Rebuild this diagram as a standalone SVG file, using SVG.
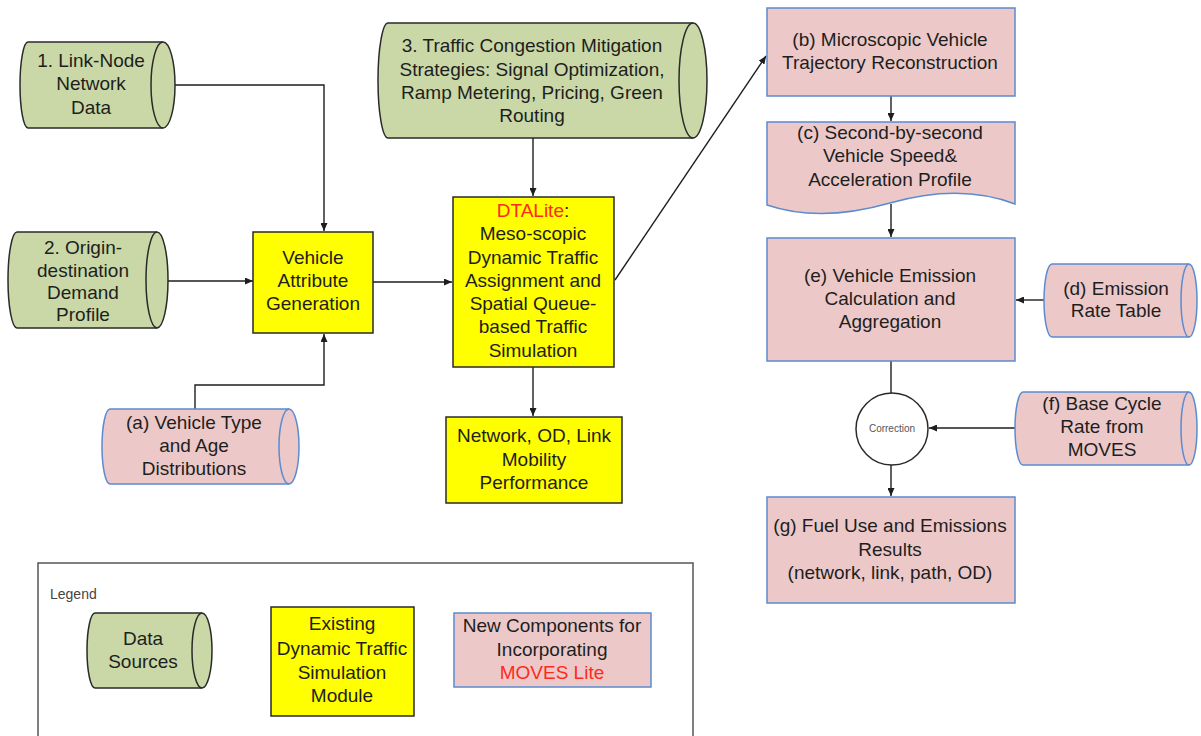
<svg xmlns="http://www.w3.org/2000/svg" width="1201" height="736" viewBox="0 0 1201 736">
<style>
text{font-family:"Liberation Sans",Arial,sans-serif;font-size:19px;fill:#1e1e1e;text-anchor:middle}
.green{fill:#c9d8a6;stroke:#2a2a2a;stroke-width:1.5}
.yellow{fill:#ffff00;stroke:#2a2a2a;stroke-width:1.5}
.pink{fill:#ecc9c8;stroke:#5b8bd0;stroke-width:1.5}
.inner{fill:none}
.conn{fill:none;stroke:#1e1e1e;stroke-width:1.4}
.red{fill:#ff2a1a}
</style>
<defs>
<marker id="ah" markerUnits="userSpaceOnUse" markerWidth="9" markerHeight="7" refX="8" refY="3.5" orient="auto"><path d="M0,0 L8,3.5 L0,7 Z" fill="#1e1e1e"/></marker>
</defs>
<rect width="1201" height="736" fill="#fff"/>

<g id="connectors">
<polyline class="conn" points="175,85 324,85 324,231" marker-end="url(#ah)"/>
<line class="conn" x1="168" y1="281" x2="253" y2="281" marker-end="url(#ah)"/>
<polyline class="conn" points="195,409 195,385 324,385 324,334" marker-end="url(#ah)"/>
<line class="conn" x1="373" y1="282" x2="452" y2="282" marker-end="url(#ah)"/>
<line class="conn" x1="533" y1="138" x2="533" y2="196" marker-end="url(#ah)"/>
<line class="conn" x1="533" y1="367" x2="533" y2="416" marker-end="url(#ah)"/>
<line class="conn" x1="615" y1="280" x2="766" y2="56" marker-end="url(#ah)"/>
<line class="conn" x1="891" y1="96" x2="891" y2="121" marker-end="url(#ah)"/>
<line class="conn" x1="891" y1="204" x2="891" y2="237" marker-end="url(#ah)"/>
<line class="conn" x1="1044" y1="300" x2="1016" y2="300" marker-end="url(#ah)"/>
<line class="conn" x1="891" y1="361" x2="891" y2="393"/>
<line class="conn" x1="1015" y1="428" x2="929" y2="428" marker-end="url(#ah)"/>
<line class="conn" x1="891" y1="465" x2="891" y2="496" marker-end="url(#ah)"/>
</g>

<g id="n1">
<path class="green" d="M28,42 H163 A12,43 0 0 1 163,128 H28 A8,43 0 0 1 28,42 Z"/>
<path class="green inner" d="M163,42 A12,43 0 0 0 163,128"/>
<text x="91" y="67">1. Link-Node</text><text x="91" y="90">Network</text><text x="91" y="114">Data</text>
</g>

<g id="n2">
<path class="green" d="M17,232 H157 A11,48 0 0 1 157,328 H17 A9,48 0 0 1 17,232 Z"/>
<path class="green inner" d="M157,232 A11,48 0 0 0 157,328"/>
<text x="83" y="254">2. Origin-</text><text x="83" y="277">destination</text><text x="83" y="299">Demand</text><text x="83" y="321">Profile</text>
</g>

<g id="n3">
<path class="green" d="M388,23 H693 A14,57.5 0 0 1 693,138 H388 A10,57.5 0 0 1 388,23 Z"/>
<path class="green inner" d="M693,23 A14,57.5 0 0 0 693,138"/>
<text x="532" y="52">3. Traffic Congestion Mitigation</text>
<text x="532" y="76">Strategies: Signal Optimization,</text>
<text x="532" y="99">Ramp Metering, Pricing, Green</text>
<text x="532" y="122">Routing</text>
</g>

<g id="vag">
<rect class="yellow" x="253" y="232" width="120" height="101"/>
<text x="313" y="264">Vehicle</text><text x="313" y="287">Attribute</text><text x="313" y="310">Generation</text>
</g>

<g id="dtalite">
<rect class="yellow" x="453" y="197" width="161" height="170"/>
<text x="533" y="217"><tspan class="red">DTALite</tspan>:</text>
<text x="533" y="240">Meso-scopic</text>
<text x="533" y="264">Dynamic Traffic</text>
<text x="533" y="287">Assignment and</text>
<text x="533" y="310">Spatial Queue-</text>
<text x="533" y="333">based Traffic</text>
<text x="533" y="357">Simulation</text>
</g>

<g id="network">
<rect class="yellow" x="446" y="417" width="176" height="86"/>
<text x="534" y="442">Network, OD, Link</text><text x="534" y="466">Mobility</text><text x="534" y="489">Performance</text>
</g>

<g id="na">
<path class="pink" d="M110,409 H289 A10,37.5 0 0 1 289,484 H110 A8,37.5 0 0 1 110,409 Z"/>
<path class="pink inner" d="M289,409 A10,37.5 0 0 0 289,484"/>
<text x="194" y="429">(a) Vehicle Type</text><text x="194" y="452">and Age</text><text x="194" y="475">Distributions</text>
</g>

<g id="nb">
<rect class="pink" x="767" y="8" width="248" height="88"/>
<text x="890" y="46">(b) Microscopic Vehicle</text><text x="890" y="69">Trajectory Reconstruction</text>
</g>

<g id="nc">
<path class="pink" d="M767,122 H1015 V204 Q960,183 890,203 T767,205 Z"/>
<text x="890" y="139">(c) Second-by-second</text><text x="890" y="162">Vehicle Speed&amp;</text><text x="890" y="186">Acceleration Profile</text>
</g>

<g id="ne">
<rect class="pink" x="767" y="238" width="248" height="123"/>
<text x="890" y="282">(e) Vehicle Emission</text><text x="890" y="305">Calculation and</text><text x="890" y="328">Aggregation</text>
</g>

<g id="nd">
<path class="pink" d="M1052,264 H1189 A8,36.5 0 0 1 1189,337 H1052 A8,36.5 0 0 1 1052,264 Z"/>
<path class="pink inner" d="M1189,264 A8,36.5 0 0 0 1189,337"/>
<text x="1116" y="295">(d) Emission</text><text x="1116" y="317">Rate Table</text>
</g>

<g id="correction">
<circle cx="892" cy="429" r="36" fill="#fff" stroke="#2a2a2a" stroke-width="1.5"/>
<text x="892" y="432" style="font-size:10px;fill:#555">Correction</text>
</g>

<g id="nf">
<path class="pink" d="M1023,392 H1189 A8,36.5 0 0 1 1189,465 H1023 A8,36.5 0 0 1 1023,392 Z"/>
<path class="pink inner" d="M1189,392 A8,36.5 0 0 0 1189,465"/>
<text x="1102" y="410">(f) Base Cycle</text><text x="1102" y="433">Rate from</text><text x="1102" y="456">MOVES</text>
</g>

<g id="ng">
<rect class="pink" x="767" y="497" width="248" height="106"/>
<text x="890" y="532">(g) Fuel Use and Emissions</text><text x="890" y="556">Results</text><text x="890" y="579">(network, link, path, OD)</text>
</g>

<g id="legend">
<rect x="38" y="563" width="655" height="180" fill="#fff" stroke="#555" stroke-width="1.5"/>
<text x="50" y="599" style="font-size:14px;text-anchor:start;fill:#444">Legend</text>
<g id="legend-data">
<path class="green" d="M95,613 H202 A10,37.5 0 0 1 202,688 H95 A8,37.5 0 0 1 95,613 Z"/>
<path class="green inner" d="M202,613 A10,37.5 0 0 0 202,688"/>
<text x="143" y="645">Data</text><text x="143" y="668">Sources</text>
</g>
<g id="legend-existing">
<rect class="yellow" x="271" y="607" width="143" height="109"/>
<text x="342" y="630">Existing</text><text x="342" y="655">Dynamic Traffic</text><text x="342" y="679">Simulation</text><text x="342" y="702">Module</text>
</g>
<g id="legend-new">
<rect class="pink" x="454" y="613" width="197" height="74"/>
<text x="552" y="632">New Components for</text><text x="552" y="656">Incorporating</text><text x="552" y="679" class="red">MOVES Lite</text>
</g>
</g>
</svg>
